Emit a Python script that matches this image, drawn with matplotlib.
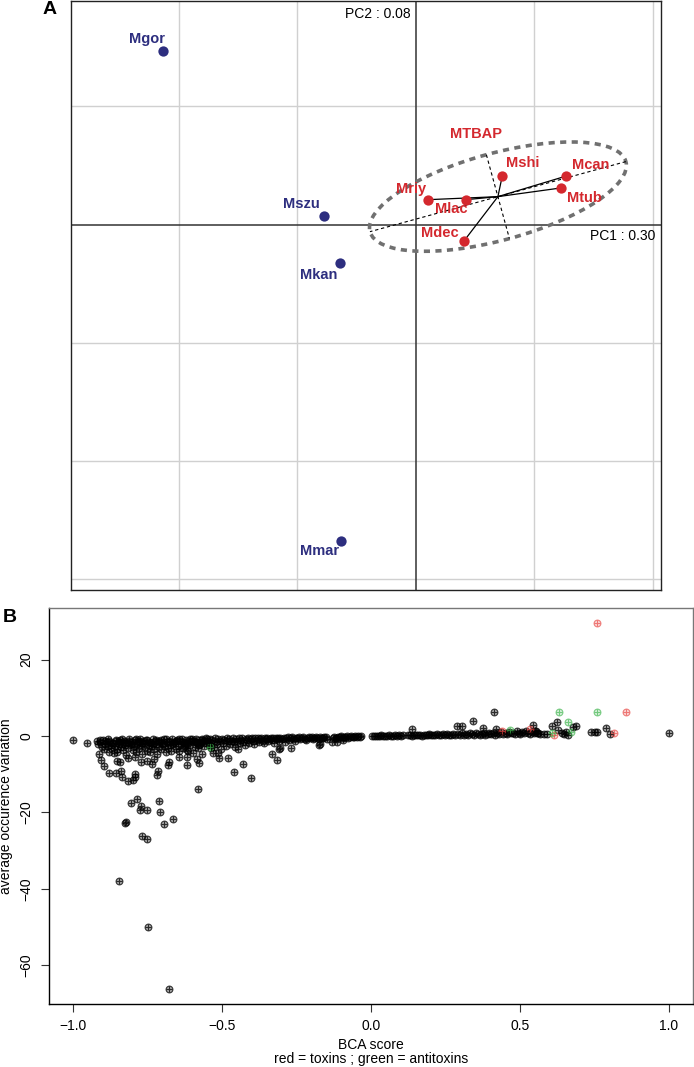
#! /usr/bin/env python

"""
PCA of species (A) and BCA score vs occurence variation (B)
"""

import matplotlib
matplotlib.use('Agg')

import matplotlib.pyplot as plt
from matplotlib.colors import to_rgba
from matplotlib.patches import Ellipse
import numpy as np

plt.rcParams['font.family'] = ['Liberation Sans', 'DejaVu Sans']

# ---- panel A : PCA coordinates
OUT_NAMES = ['Mgor', 'Mszu', 'Mkan', 'Mmar']
OUT_PC1 = [-2.135, -0.776, -0.641, -0.633]
OUT_PC2 = [1.468, 0.076, -0.321, -2.675]

MTB_NAMES = ['Mriy', 'Mlac', 'Mshi', 'Mcan', 'Mtub', 'Mdec']
MTB_PC1 = [0.10, 0.42, 0.73, 1.27, 1.23, 0.41]
MTB_PC2 = [0.21, 0.21, 0.41, 0.41, 0.31, -0.135]
GROUP_NAME = 'MTBAP'
PC1_VAR = 0.30
PC2_VAR = 0.08

# ---- panel B : (BCA score, average occurence variation)
BAND_LEFT = [
    (-0.921, -1.3), (-0.916, -2.2), (-0.909, -1.6), (-0.904, -2.9), (-0.899, -1.1), (-0.896, -3.4),
    (-0.891, -2.0), (-0.887, -1.5), (-0.884, -2.7), (-0.878, -1.2), (-0.874, -3.1), (-0.871, -2.3),
    (-0.866, -1.7), (-0.862, -4.4), (-0.859, -2.6), (-0.855, -1.4), (-0.851, -3.3), (-0.847, -2.1),
    (-0.843, -1.0), (-0.839, -2.8), (-0.836, -1.9), (-0.832, -3.7), (-0.828, -1.3), (-0.825, -2.4),
    (-0.821, -4.9), (-0.817, -1.8), (-0.814, -3.0), (-0.811, -0.9), (-0.806, -2.2), (-0.803, -1.5),
    (-0.799, -3.6), (-0.796, -2.7), (-0.792, -1.1), (-0.789, -4.2), (-0.785, -2.0), (-0.781, -1.6),
    (-0.778, -3.2), (-0.774, -0.8), (-0.771, -2.5), (-0.768, -4.6), (-0.764, -1.4), (-0.760, -2.9),
    (-0.757, -1.9), (-0.753, -3.8), (-0.750, -1.0), (-0.746, -2.3), (-0.742, -4.1), (-0.739, -1.7),
    (-0.735, -2.6), (-0.732, -0.9), (-0.728, -3.4), (-0.724, -1.3), (-0.721, -2.1), (-0.717, -4.8),
    (-0.713, -1.6), (-0.710, -2.8), (-0.706, -1.1), (-0.703, -3.5), (-0.699, -2.0), (-0.696, -0.8),
    (-0.692, -2.7), (-0.688, -4.3), (-0.685, -1.5), (-0.681, -3.0), (-0.678, -1.2), (-0.674, -2.4),
    (-0.671, -3.9), (-0.667, -0.9), (-0.663, -2.2), (-0.660, -1.6), (-0.656, -3.3), (-0.652, -1.0),
    (-0.649, -2.6), (-0.645, -4.0), (-0.642, -1.4), (-0.638, -2.0), (-0.634, -0.8), (-0.631, -3.1),
    (-0.627, -1.7), (-0.624, -2.5), (-0.620, -1.1), (-0.616, -3.6), (-0.613, -1.9), (-0.609, -0.9),
    (-0.606, -2.3), (-0.602, -1.4), (-0.598, -4.5), (-0.595, -1.2), (-0.591, -2.8), (-0.588, -0.8),
    (-0.584, -1.8), (-0.580, -3.2), (-0.577, -1.0), (-0.573, -2.1), (-0.570, -1.5), (-0.566, -0.7),
    (-0.562, -2.6), (-0.559, -1.3), (-0.555, -1.9), (-0.551, -0.9),
    (-0.908, -1.0), (-0.893, -1.4), (-0.882, -0.9), (-0.869, -1.8), (-0.857, -1.1), (-0.845, -1.6),
    (-0.834, -0.9), (-0.823, -1.7), (-0.812, -1.2), (-0.801, -2.0), (-0.790, -0.9), (-0.779, -1.3),
    (-0.767, -1.8), (-0.755, -1.1), (-0.744, -1.5), (-0.733, -2.1), (-0.722, -1.0), (-0.711, -1.4),
    (-0.700, -1.8), (-0.689, -0.9), (-0.677, -1.5), (-0.666, -1.9), (-0.654, -1.2), (-0.643, -0.8),
    (-0.632, -1.6), (-0.621, -2.2), (-0.610, -1.3), (-0.599, -0.9), (-0.588, -1.5), (-0.577, -2.3),
    (-0.566, -1.1), (-0.555, -0.6),
]
BAND_MID = [
    (-0.548, -1.4), (-0.544, -2.4), (-0.540, -0.8), (-0.536, -1.7), (-0.532, -1.1), (-0.528, -2.9),
    (-0.524, -0.6), (-0.520, -1.5), (-0.516, -2.1), (-0.512, -0.9), (-0.508, -1.3), (-0.504, -3.4),
    (-0.500, -0.7), (-0.496, -1.8), (-0.492, -1.0), (-0.488, -2.5), (-0.484, -0.6), (-0.480, -1.4),
    (-0.476, -0.9), (-0.472, -2.0), (-0.468, -1.2), (-0.464, -0.5), (-0.460, -1.6), (-0.456, -2.8),
    (-0.452, -0.8), (-0.448, -1.3), (-0.444, -0.6), (-0.440, -1.9), (-0.436, -1.0), (-0.432, -0.5),
    (-0.428, -1.5), (-0.424, -2.3), (-0.420, -0.7), (-0.416, -1.1), (-0.412, -0.5), (-0.408, -1.7),
    (-0.404, -0.9), (-0.400, -0.4), (-0.396, -1.3), (-0.392, -2.1), (-0.388, -0.6), (-0.384, -1.0),
    (-0.380, -0.4), (-0.376, -1.5), (-0.372, -0.8), (-0.368, -0.5), (-0.364, -1.2), (-0.360, -1.9),
    (-0.356, -0.6), (-0.352, -0.9), (-0.348, -0.4), (-0.344, -1.4), (-0.340, -0.7), (-0.336, -0.4),
    (-0.332, -1.1), (-0.328, -0.6), (-0.324, -1.7), (-0.320, -0.5), (-0.316, -0.8), (-0.312, -0.4),
    (-0.308, -1.2), (-0.304, -0.6),
    (-0.298, -0.9), (-0.293, -0.4), (-0.289, -1.5), (-0.284, -0.6), (-0.279, -0.3), (-0.275, -1.0),
    (-0.270, -0.5), (-0.265, -0.3), (-0.261, -0.8), (-0.256, -1.3), (-0.251, -0.4), (-0.247, -0.6),
    (-0.242, -0.3), (-0.237, -0.9), (-0.232, -0.5), (-0.228, -0.2), (-0.223, -0.7), (-0.218, -1.1),
    (-0.214, -0.4), (-0.209, -0.3), (-0.204, -0.6), (-0.199, -0.2), (-0.195, -0.8), (-0.190, -0.4),
    (-0.185, -0.3), (-0.181, -0.5), (-0.176, -0.9), (-0.171, -0.2), (-0.166, -0.4), (-0.162, -0.6),
    (-0.157, -0.3), (-0.152, -0.2), (-0.148, -0.7), (-0.128, -0.5), (-0.124, -0.2), (-0.119, -0.4),
    (-0.114, -0.6), (-0.110, -0.2), (-0.105, -0.3), (-0.100, -0.1), (-0.095, -0.4), (-0.091, -0.2),
    (-0.086, -0.3), (-0.081, -0.1), (-0.076, -0.5), (-0.072, -0.2), (-0.067, -0.1), (-0.062, -0.3),
    (-0.057, -0.2), (-0.053, -0.1), (-0.048, -0.3), (-0.043, -0.1), (-0.038, -0.2), (-0.034, 0.0),
]
BAND_RIGHT = [
    (0.004, 0.0), (0.010, 0.1), (0.016, 0.0), (0.022, 0.1), (0.029, 0.0), (0.035, 0.2),
    (0.041, 0.1), (0.048, 0.0), (0.054, 0.1), (0.061, 0.2), (0.067, 0.1), (0.074, 0.0),
    (0.080, 0.2), (0.087, 0.1), (0.093, 0.3), (0.100, 0.1), (0.106, 0.2), (0.125, 0.2),
    (0.131, 0.3), (0.138, 0.1), (0.144, 0.2), (0.151, 0.4), (0.157, 0.2), (0.164, 0.3),
    (0.170, 0.1), (0.177, 0.4), (0.183, 0.2), (0.190, 0.3), (0.196, 0.5), (0.203, 0.2),
    (0.209, 0.4), (0.216, 0.3), (0.222, 0.5), (0.229, 0.2), (0.235, 0.4), (0.242, 0.6),
    (0.248, 0.3), (0.255, 0.5), (0.261, 0.4), (0.268, 0.2), (0.274, 0.6), (0.281, 0.4),
    (0.293, 0.5), (0.300, 0.3), (0.306, 0.7), (0.313, 0.4), (0.319, 0.6), (0.326, 0.3),
    (0.332, 0.8), (0.339, 0.5), (0.345, 0.4), (0.352, 0.7), (0.358, 0.5), (0.365, 0.3),
    (0.371, 0.6), (0.378, 0.8), (0.384, 0.4), (0.391, 0.6), (0.397, 0.9), (0.404, 0.5),
    (0.410, 0.7), (0.417, 0.4), (0.423, 0.8), (0.430, 0.6), (0.436, 1.0), (0.443, 0.5),
    (0.452, 0.8), (0.458, 0.5), (0.463, 1.1), (0.470, 0.7), (0.476, 0.9), (0.482, 0.6),
    (0.489, 1.2), (0.495, 0.8), (0.501, 0.5), (0.508, 1.0), (0.514, 0.7), (0.520, 1.3),
    (0.527, 0.9), (0.533, 0.6), (0.540, 1.1), (0.546, 0.8), (0.553, 1.4), (0.559, 0.9),
    (0.566, 0.6),
]
OUTLIERS = [
    (-1.000, -1.1), (-0.952, -1.9), (-0.913, -4.7), (-0.907, -6.2), (-0.895, -7.8), (-0.879, -4.2),
    (-0.878, -9.7), (-0.856, -9.7), (-0.853, -4.1), (-0.851, -6.4), (-0.842, -6.8), (-0.840, -9.1),
    (-0.837, -10.6), (-0.845, -38.0), (-0.827, -22.7), (-0.822, -22.5), (-0.814, -11.7), (-0.814, -5.8),
    (-0.807, -17.4), (-0.798, -11.5), (-0.793, -9.8), (-0.791, -10.6), (-0.792, -5.4), (-0.786, -16.4),
    (-0.775, -19.3), (-0.772, -18.2), (-0.771, -6.9), (-0.770, -26.1), (-0.751, -19.4), (-0.751, -26.9),
    (-0.751, -6.4), (-0.749, -49.9), (-0.735, -7.3), (-0.727, -6.1), (-0.719, -10.1), (-0.714, -9.2),
    (-0.712, -17.0), (-0.708, -20.0), (-0.695, -22.9), (-0.682, -7.5), (-0.679, -6.9), (-0.678, -66.3),
    (-0.666, -21.6), (-0.645, -5.4), (-0.618, -5.6), (-0.616, -7.6), (-0.613, -3.8), (-0.585, -6.0),
    (-0.582, -13.8), (-0.577, -7.1), (-0.567, -4.8), (-0.538, -3.1), (-0.529, -4.4), (-0.512, -4.5),
    (-0.511, -5.8), (-0.481, -5.8), (-0.460, -9.5), (-0.445, -3.5), (-0.430, -7.2), (-0.403, -10.9),
    (-0.333, -4.6), (-0.315, -6.3), (-0.310, -3.3), (-0.305, -3.0), (-0.268, -3.0), (-0.175, -2.3),
    (-0.170, -2.0), (-0.132, -1.5), (-0.115, -1.5), (-0.095, -1.0),
    (0.139, 1.8), (0.290, 2.5), (0.304, 2.5), (0.341, 4.0), (0.377, 2.1), (0.414, 6.4),
    (0.421, 1.9), (0.543, 2.8), (0.550, 1.2), (0.556, 0.8), (0.580, 0.5), (0.590, 0.6),
    (0.609, 2.7), (0.625, 3.7), (0.628, 1.6), (0.640, 0.8), (0.648, 0.5), (0.655, 1.0),
    (0.660, 0.4), (0.679, 2.3), (0.687, 2.7), (0.739, 1.0), (0.753, 1.1), (0.758, 1.0),
    (0.789, 2.1), (0.802, 0.6), (1.000, 0.9),
]
TOXINS = [(0.441, 1.2), (0.535, 1.8), (0.613, 0.25), (0.759, 29.5), (0.817, 0.7), (0.855, 6.2)]
ANTITOXINS = [(-0.540, -2.8), (0.468, 1.7), (0.608, 0.9), (0.630, 6.4), (0.662, 3.6), (0.670, 1.0),
              (0.760, 6.4)]

NAVY = '#2d2e7f'
RED = '#d4282e'


def pch10(ax, pts, color, alpha, fill, size=24):
    # R pch=10 : circle with a plus inside
    x, y = zip(*pts)
    ax.scatter(x, y, s=size, facecolors=[to_rgba(color, fill)],
               edgecolors=[to_rgba(color, alpha)], linewidths=0.8, zorder=3)
    ax.scatter(x, y, s=size, marker='+', c=[to_rgba(color, alpha)], linewidths=0.8, zorder=4)


def plotPCA(ax):
    ax.set_xlim(-2.91, 2.07)
    ax.set_ylim(-3.09, 1.89)
    for g in [-2, -1, 1, 2]:
        ax.axvline(g, color='#d0d0d0', lw=1, zorder=0)
    for g in [-3, -2, -1, 1]:
        ax.axhline(g, color='#d0d0d0', lw=1, zorder=0)
    ax.axhline(0, color='#333333', lw=1.1, zorder=1)
    ax.axvline(0, color='#333333', lw=1.1, zorder=1)
    ax.set_xticks([])
    ax.set_yticks([])
    for sp in ax.spines.values():
        sp.set_color('#222222')
        sp.set_linewidth(1)

    # star + ellipse of the MTBAP group
    cx, cy = np.mean(MTB_PC1), np.mean(MTB_PC2)
    for x, y in zip(MTB_PC1, MTB_PC2):
        ax.plot([cx, x], [cy, y], color='black', lw=0.9, zorder=2)
    cov = np.cov(MTB_PC1, MTB_PC2, bias=True)
    vals, vecs = np.linalg.eigh(cov)
    order = vals.argsort()[::-1]
    vals, vecs = vals[order], vecs[:, order]
    half = 2.5 * np.sqrt(vals)
    angle = np.degrees(np.arctan2(vecs[1, 0], vecs[0, 0]))
    ax.add_patch(Ellipse((cx, cy), 2 * half[0], 2 * half[1], angle=angle, fill=False,
                         ls=(0, (1.7, 1.5)), lw=2.6, ec='#707070', zorder=2))
    for k in range(2):
        dx, dy = vecs[:, k] * half[k]
        ax.plot([cx - dx, cx + dx], [cy - dy, cy + dy], color='black', lw=0.8,
                ls=(0, (3, 2.5)), zorder=2)

    ax.scatter(OUT_PC1, OUT_PC2, s=55, color=NAVY, zorder=3, linewidths=0)
    ax.scatter(MTB_PC1, MTB_PC2, s=55, color=RED, zorder=3, linewidths=0)

    offsets = {'Mgor': (-16, 12), 'Mszu': (-22, 12), 'Mkan': (-21, -12), 'Mmar': (-21, -10),
               'Mriy': (-17, 11), 'Mlac': (-14, -9), 'Mshi': (20, 13), 'Mcan': (24, 11),
               'Mtub': (23, -10), 'Mdec': (-25, 8)}
    for names, xs, ys, col in [(OUT_NAMES, OUT_PC1, OUT_PC2, NAVY), (MTB_NAMES, MTB_PC1, MTB_PC2, RED)]:
        for n, x, y in zip(names, xs, ys):
            ax.annotate(n, (x, y), xytext=offsets[n], textcoords='offset pixels', ha='center',
                        va='center', color=col, fontsize=10.5, fontweight='bold', zorder=5)
    ax.annotate(GROUP_NAME, (cx, cy), xytext=(-22, 63), textcoords='offset pixels', ha='center',
                va='center', color=RED, fontsize=10.5, fontweight='bold')

    ax.annotate('PC2 : %.2f' % PC2_VAR, (0, 1), xycoords=('data', 'axes fraction'), xytext=(-5, -6),
                textcoords='offset pixels', ha='right', va='top', fontsize=10)
    ax.annotate('PC1 : %.2f' % PC1_VAR, (1, 0), xycoords=('axes fraction', 'data'), xytext=(-6, -11),
                textcoords='offset pixels', ha='right', va='center', fontsize=10)


def plotBCA(ax):
    black = BAND_LEFT + BAND_MID + BAND_RIGHT + OUTLIERS
    pch10(ax, black, 'black', 0.75, 0.35)
    pch10(ax, TOXINS, '#e8423f', 0.65, 0.2)
    pch10(ax, ANTITOXINS, '#3cb44b', 0.65, 0.2)

    ax.set_xlim(-1.0805, 1.0805)
    ax.set_ylim(-70.1, 33.5)
    ax.set_xticks([-1.0, -0.5, 0.0, 0.5, 1.0])
    ax.set_xticklabels(['\u22121.0', '\u22120.5', '0.0', '0.5', '1.0'])
    ax.set_yticks([-60, -40, -20, 0, 20])
    ax.set_yticklabels(['\u221260', '\u221240', '\u221220', '0', '20'], rotation=90, va='center')
    ax.tick_params(direction='out', length=6, width=0.8, pad=5, labelsize=10, color='#333333')
    for side in ['left', 'bottom']:
        ax.spines[side].set_color('black')
        ax.spines[side].set_linewidth(1)
    for side in ['top', 'right']:
        ax.spines[side].set_color('#777777')
        ax.spines[side].set_linewidth(1)


fig = plt.figure(figsize=(6.94, 10.67), dpi=100)
W, H = 694.0, 1067.0
axA = fig.add_axes([71 / W, 1 - 590 / H, 590 / W, 589 / H])
axB = fig.add_axes([49 / W, 1 - 1004 / H, 644 / W, 396 / H])
plotPCA(axA)
plotBCA(axB)

fig.text(50 / W, 1 - 10 / H, 'A', ha='center', va='center', fontsize=14, fontweight='bold')
fig.text(10 / W, 1 - 617 / H, 'B', ha='center', va='center', fontsize=14, fontweight='bold')
fig.text(6 / W, 1 - 806 / H, 'average occurence variation', rotation=90, ha='center', va='center',
         fontsize=10)
fig.text(371 / W, 1 - 1052 / H, 'BCA score\nred = toxins ; green = antitoxins', ha='center',
         va='center', fontsize=10, linespacing=0.95)

fig.savefig('out.png', dpi=100)
